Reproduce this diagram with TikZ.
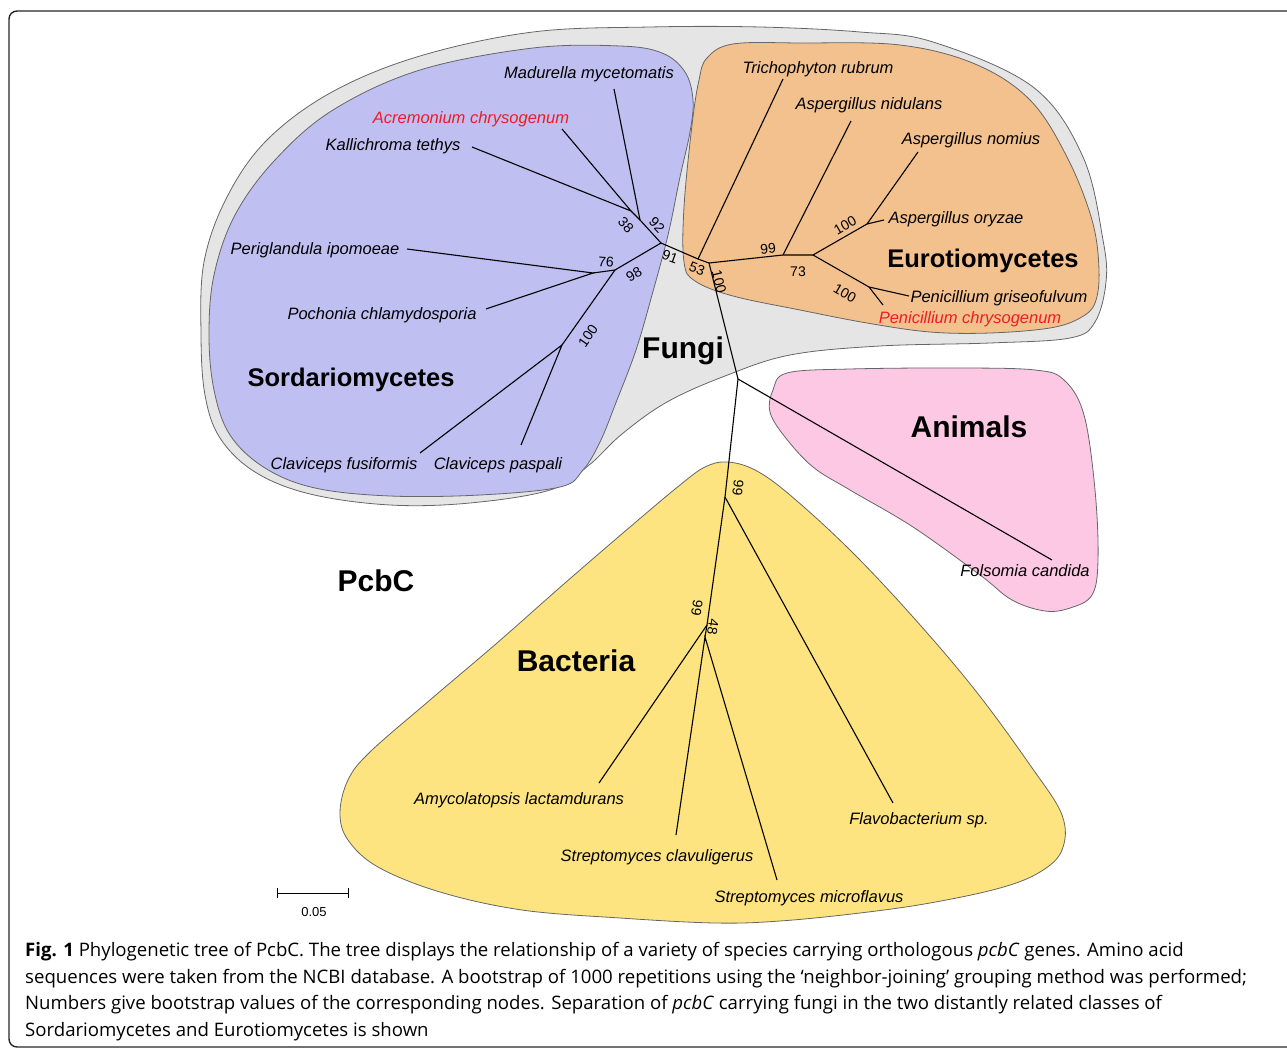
\documentclass[tikz,border=0pt]{standalone}
\usepackage{fontspec}
\setmainfont{Liberation Sans}
\newfontfamily\capfont{Open Sans}
\definecolor{fungigray}{HTML}{E5E5E5}
\definecolor{sordblue}{HTML}{BFBFF1}
\definecolor{eurorange}{HTML}{F3C18E}
\definecolor{animpink}{HTML}{FDC8E4}
\definecolor{bactyellow}{HTML}{FEE480}
\definecolor{labred}{HTML}{EE1C24}

\begin{document}
\begin{tikzpicture}[x=1pt,y=-1pt,
    blob/.style={draw=gray!80!black, line width=0.8pt},
    sp/.style={font=\fontsize{16.5}{18}\selectfont\itshape, inner sep=0pt},
    grp/.style={font=\fontsize{30}{32}\selectfont\bfseries, inner sep=0pt},
    cls/.style={font=\fontsize{25.5}{28}\selectfont\bfseries, inner sep=0pt},
    bs/.style={font=\fontsize{14}{15}\selectfont, inner sep=0pt},
    br/.style={line width=1.1pt},
    capline/.style={font=\capfont\fontsize{18.6}{21}\selectfont, anchor=base west, inner sep=0pt}]
    \useasboundingbox (0,0) rectangle (1287,1048);

    % coloured groups
    \draw[blob, fill=fungigray] plot[smooth cycle, tension=0.6] coordinates {
        (201,335) (204,262) (227,197) (267,140) (332,92) (420,56) (533,32) (650,27) (760,27)
        (860,32) (933,42) (1033,87) (1083,157) (1103,240) (1106,282) (1095,322) (1070,338)
        (990,343) (880,346) (790,355) (725,376) (667,402) (622,434) (588,466) (550,490)
        (470,503) (390,505) (310,494) (255,472) (220,438) (205,395)};
    \draw[blob, fill=sordblue] plot[smooth cycle, tension=0.6] coordinates {
        (209,335) (214,275) (235,215) (275,160) (333,110) (420,70) (533,48) (620,46) (662,53)
        (685,72) (693,100) (690,132) (680,177) (668,235) (652,295) (636,350) (617,400)
        (600,442) (583,470) (560,487) (480,495) (390,496) (315,488) (265,468) (230,435) (214,390)};
    \draw[blob, fill=eurorange] plot[smooth cycle, tension=0.6] coordinates {
        (707,58) (733,44) (800,43) (900,45) (975,64) (1030,100) (1067,157) (1092,220)
        (1099,270) (1095,303) (1080,318) (1050,328) (990,333) (930,332) (867,323) (800,310)
        (733,296) (695,281) (684,262) (684,207) (692,125) (699,80)};
    \draw[blob, fill=animpink] plot[smooth cycle, tension=0.6] coordinates {
        (787,373) (850,369) (960,368) (1035,370) (1064,380) (1084,415) (1095,490) (1098,560)
        (1092,595) (1070,608) (1045,611) (1012,600) (980,575) (913,527) (850,490) (813,467)
        (785,437) (770,412) (773,390)};
    \draw[blob, fill=bactyellow] plot[smooth cycle, tension=0.6] coordinates {
        (727,462) (755,470) (790,495) (850,550) (913,617) (975,690) (1030,765) (1062,815)
        (1062,850) (1040,872) (1000,888) (930,903) (860,913) (780,921) (715,923) (620,918)
        (522,910) (440,892) (378,867) (348,840) (340,813) (348,780) (370,752) (430,700)
        (497,643) (565,583) (630,527) (680,485) (705,467)};

    % frame
    \draw[line width=1.4pt, draw=black!85, rounded corners=8] (9,11) rectangle (1320,1047);

    % tree nodes
    \coordinate (n38) at (631,211);
    \coordinate (n92) at (640,220);
    \coordinate (n91) at (661,243);
    \coordinate (n98) at (615,270);
    \coordinate (n76) at (593,273);
    \coordinate (nCla) at (562,345);
    \coordinate (n53) at (698,259);
    \coordinate (nRoot) at (709,263);
    \coordinate (n99e) at (783,255);
    \coordinate (n73) at (813,255);
    \coordinate (nAsp) at (867,224);
    \coordinate (nPen) at (869,287);
    \coordinate (nAni) at (738,379);
    \coordinate (n99a) at (725,497);
    \coordinate (n99b) at (707,625);
    \coordinate (n48) at (705,637);
    % leaf ends
    \coordinate (lMad) at (614,89);
    \coordinate (lAcr) at (562,129);
    \coordinate (lKal) at (472,147);
    \coordinate (lPer) at (407,249);
    \coordinate (lPoc) at (486,309);
    \coordinate (lCfu) at (420,453);
    \coordinate (lCpa) at (521,445);
    \coordinate (lTri) at (783,79);
    \coordinate (lNid) at (851,121);
    \coordinate (lNom) at (918,152);
    \coordinate (lOry) at (884,220);
    \coordinate (lPgr) at (909,296);
    \coordinate (lPch) at (883,305);
    \coordinate (lFol) at (1052,560);
    \coordinate (lFla) at (893,803);
    \coordinate (lAmy) at (599,783);
    \coordinate (lScl) at (676,835);
    \coordinate (lSmi) at (777,880);

    % branches
    \draw[br] (lKal) -- (n38) -- (lAcr);
    \draw[br] (n38) -- (n92) -- (n91);
    \draw[br] (lMad) -- (n92);
    \draw[br] (lPer) -- (n76) -- (lPoc);
    \draw[br] (n76) -- (n98) -- (n91);
    \draw[br] (n98) -- (nCla);
    \draw[br] (lCfu) -- (nCla) -- (lCpa);
    \draw[br] (n91) -- (n53) -- (nRoot);
    \draw[br] (lTri) -- (n53);
    \draw[br] (nRoot) -- (n99e) -- (n73);
    \draw[br] (lNid) -- (n99e);
    \draw[br] (n73) -- (nAsp) -- (lNom);
    \draw[br] (nAsp) -- (lOry);
    \draw[br] (n73) -- (nPen) -- (lPgr);
    \draw[br] (nPen) -- (lPch);
    \draw[br] (nRoot) -- (nAni) -- (lFol);
    \draw[br] (nAni) -- (n99a) -- (lFla);
    \draw[br] (n99a) -- (n99b) -- (n48);
    \draw[br] (n99b) -- (lAmy);
    \draw[br] (lScl) -- (n48) -- (lSmi);

    % bootstrap values
    \node[bs, rotate=-47] (b38) at (626,225) {38};
    \node[bs, rotate=-47] (b92) at (657,225) {92};
    \node[bs, rotate=-20] (b91) at (670,257) {91};
    \node[bs, rotate=-5] (b76) at (606,262) {76};
    \node[bs, rotate=30] (b98) at (634,274) {98};
    \node[bs, rotate=55] (b100s) at (588,336) {100};
    \node[bs, rotate=-20] (b53) at (697,269) {53};
    \node[bs, rotate=-76] (b100r) at (719,282) {100};
    \node[bs, rotate=6] (b99e) at (768,249) {99};
    \node[bs] (b73) at (798,272) {73};
    \node[bs, rotate=30] (b100a) at (845,225) {100};
    \node[bs, rotate=-30] (b100p) at (845,293) {100};
    \node[bs, rotate=-96] (b99a) at (738,488) {99};
    \node[bs, rotate=-98] (b99b) at (697,608) {99};
    \node[bs, rotate=-98] (b48) at (713,627) {48};

    % species
    \node[sp] (tMad) at (589,74) {Madurella mycetomatis};
    \node[sp, text=labred] (tAcr) at (471,119) {Acremonium chrysogenum};
    \node[sp] (tKal) at (393,146) {Kallichroma tethys};
    \node[sp] (tPer) at (315,250) {Periglandula ipomoeae};
    \node[sp] (tPoc) at (382,315) {Pochonia chlamydosporia};
    \node[sp] (tCfu) at (344,465) {Claviceps fusiformis};
    \node[sp] (tCpa) at (498,465) {Claviceps paspali};
    \node[sp] (tTri) at (818,69) {Trichophyton rubrum};
    \node[sp] (tNid) at (869,105) {Aspergillus nidulans};
    \node[sp] (tNom) at (971,140) {Aspergillus nomius};
    \node[sp] (tOry) at (956,219) {Aspergillus oryzae};
    \node[sp] (tPgr) at (999,298) {Penicillium griseofulvum};
    \node[sp, text=labred] (tPch) at (970,319) {Penicillium chrysogenum};
    \node[sp] (tFol) at (1025,571) {Folsomia candida};
    \node[sp] (tAmy) at (519,800) {Amycolatopsis lactamdurans};
    \node[sp] (tScl) at (657,857) {Streptomyces clavuligerus};
    \node[sp] (tSmi) at (809,898) {Streptomyces microflavus};
    \node[sp] (tFla) at (919,820) {Flavobacterium sp.};

    % groups
    \node[cls] (gSor) at (351,380) {Sordariomycetes};
    \node[cls] (gEur) at (983,261) {Eurotiomycetes};
    \node[grp] (gFun) at (683,351) {Fungi};
    \node[grp] (gAni) at (969,427) {Animals};
    \node[grp] (gBac) at (576,661) {Bacteria};
    \node[grp] (gPcb) at (376,581) {PcbC};

    % scale bar
    \coordinate (sbL) at (277,893);
    \coordinate (sbR) at (348,893);
    \draw[line width=1pt] (sbL) -- (sbR);
    \draw[line width=1pt] ([yshift=-5pt]sbL) -- ([yshift=5pt]sbL);
    \draw[line width=1pt] ([yshift=-5pt]sbR) -- ([yshift=5pt]sbR);
    \node[font=\fontsize{13}{14}\selectfont, inner sep=0pt] (sbT) at (314,912) {0.05};

    % caption
    \node[capline] (cap1) at (25,956) {\textbf{Fig. 1} Phylogenetic tree of PcbC. The tree displays the relationship of a variety of species carrying orthologous \textit{pcbC} genes. Amino acid};
    \node[capline] (cap2) at (25,983) {sequences were taken from the NCBI database. A bootstrap of 1000 repetitions using the ‘neighbor-joining’ grouping method was performed;};
    \node[capline] (cap3) at (25,1009) {Numbers give bootstrap values of the corresponding nodes. Separation of \textit{pcbC} carrying fungi in the two distantly related classes of};
    \node[capline] (cap4) at (25,1036) {Sordariomycetes and Eurotiomycetes is shown};
\end{tikzpicture}
\end{document}
